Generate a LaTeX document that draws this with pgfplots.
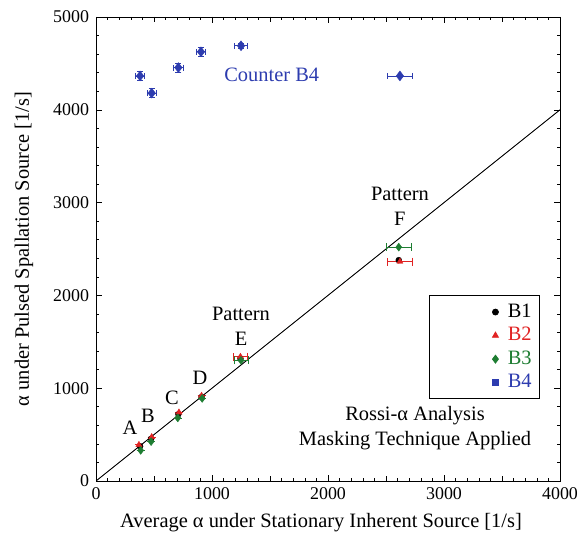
\documentclass[border=0pt]{standalone}
\usepackage{pgfplots}
\pgfplotsset{compat=1.18}
\usepackage{fontspec}
\setmainfont{Liberation Serif}
\definecolor{cblue}{RGB}{45,60,175}
\definecolor{cred}{RGB}{225,35,35}
\definecolor{cgreen}{RGB}{30,125,50}
\begin{document}
\fontsize{20.5}{24}\selectfont
\begin{tikzpicture}
\begin{axis}[
  name=ax,
  scale only axis,
  width=464bp, height=464bp,
  xmin=0, xmax=4000, ymin=0, ymax=5000,
  xtick={0,1000,...,4000}, ytick={0,1000,...,5000},
  minor xtick={100,200,...,3900}, minor ytick={200,400,...,4800},
  extra x ticks={500,1500,2500,3500}, extra x tick labels={},
  extra x tick style={major tick length=5pt},
  tick align=inside,
  major tick length=6pt, minor tick length=3pt,
  tick style={black, semithick},
  axis line style={black, thick},
  /pgf/number format/assume math mode=true,
  /pgf/number format/set thousands separator={},
  tick label style={font=\fontsize{18}{20}\selectfont},
  label style={font=\fontsize{20.5}{24}\selectfont},
  xlabel={Average α under Stationary Inherent Source [1/s]},
  ylabel={α under Pulsed Spallation Source [1/s]},
  xlabel style={at={(rel axis cs:0.485,-0.09)}, anchor=center},
  ylabel style={at={(rel axis cs:-0.155,0.5)}, anchor=center},
  legend style={at={(0.957,0.40)}, anchor=north east, draw=black, thick,
    cells={anchor=west}, row sep=3pt, inner xsep=6pt, inner ysep=6pt,
    font=\fontsize{20.5}{23}\selectfont},
  legend cell align=left,
  legend image code/.code={\path (-60bp,0bp) (10bp,0bp);
    \draw[mark repeat=2,mark phase=2,#1] plot coordinates {(-5bp,0bp) (0bp,0bp) (5bp,0bp)};},
  error bars/error bar style={line width=0.8pt},
  error bars/error mark options={rotate=90, mark size=4pt, line width=0.8pt},
]
\addplot[black, line width=0.9pt, forget plot] coordinates {(0,0) (4000,4000)};
% B1
\addplot[only marks, mark=*, mark size=3pt, black] coordinates {
(380,375) (475,455) (710,720) (910,905) (1245,1320) (2610,2380)};
\addlegendentry{B1}
% B2
\addplot[only marks, mark=triangle*, mark size=3.5pt, cred,
  error bars/.cd, x dir=both, x explicit] coordinates {
(370,390) +- (0,0)
(480,475) +- (0,0)
(715,740) +- (0,0)
(910,920) +- (0,0)
(1245,1340) +- (60,0)
(2620,2365) +- (110,0)};
\addlegendentry{\textcolor{cred}{B2}}
% B3
\addplot[only marks, mark=diamond*, mark size=4pt, cgreen,
  error bars/.cd, x dir=both, x explicit] coordinates {
(385,330) +- (0,0)
(475,425) +- (0,0)
(705,680) +- (0,0)
(915,890) +- (0,0)
(1250,1300) +- (60,0)
(2610,2520) +- (110,0)};
\addlegendentry{\textcolor{cgreen}{B3}}
% B4
\addplot[only marks, mark=diamond*, mark size=5pt, cblue,
  legend image post style={mark=square*, mark size=3pt},
  error bars/.cd, x dir=both, x explicit, y dir=both, y explicit,
  error mark options={rotate=90, mark size=3pt, line width=0.8pt}] coordinates {
(380,4365) +- (40,50)
(480,4180) +- (40,50)
(710,4455) +- (40,50)
(905,4625) +- (40,50)
(1250,4690) +- (55,30)
(2620,4365) +- (110,0)};
\addlegendentry{\textcolor{cblue}{B4}}
\node[text=cblue] at (axis cs:1515,4380) {Counter B4};
\node at (axis cs:293,571) {A};
\node at (axis cs:448,700) {B};
\node at (axis cs:655,894) {C};
\node at (axis cs:897,1110) {D};
\node[align=center, inner sep=0pt] at (axis cs:1250,1665) {Pattern\\[1pt]E};
\node[align=center, inner sep=0pt] at (axis cs:2620,2960) {Pattern\\[1pt]F};
\node[align=center, inner sep=0pt] at (axis cs:2750,571) {Rossi-α Analysis\\[1pt]Masking Technique Applied};
\end{axis}
\pgfresetboundingbox
\path ([shift={(-96bp,-60bp)}]ax.south west) rectangle ([shift={(26bp,17bp)}]ax.north east);
\end{tikzpicture}
\end{document}
